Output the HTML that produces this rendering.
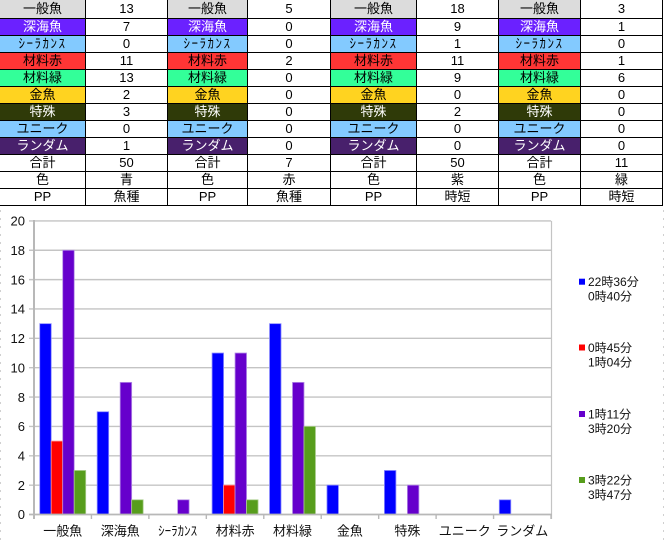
<!DOCTYPE html>
<html>
<head>
<meta charset="utf-8">
<style>
html,body{margin:0;padding:0;background:#fff;}
body{width:664px;height:540px;position:relative;overflow:hidden;font-family:"Liberation Sans","Noto Sans CJK JP",sans-serif;}
.grid{position:absolute;left:-1px;top:0;display:grid;grid-template-columns:85px 81px 79px 82px 85px 81px 81px 81px;grid-template-rows:18px repeat(11,16px);gap:1px;background:#000;padding:0 1px 1px 1px;}
.grid div{background:#fff;color:#000;font-size:13px;text-align:center;line-height:16px;white-space:nowrap;overflow:hidden;}
.grid div.r1{line-height:18px;}
.g{background:#dcdcdc!important;}
.dp{background:#6b21ff!important;color:#fff!important;}
.lb{background:#83caff!important;}
.hk{letter-spacing:1.5px;}
.rd{background:#ff3535!important;}
.gr{background:#33ff99!important;}
.yl{background:#ffd320!important;}
.ol{background:#2f3a08!important;color:#fff!important;}
.pu{background:#48206c!important;color:#fff!important;}
svg{position:absolute;left:0;top:0;}
</style>
</head>
<body>
<div class="grid">
<div class="g r1">一般魚</div><div class="r1">13</div><div class="g r1">一般魚</div><div class="r1">5</div><div class="g r1">一般魚</div><div class="r1">18</div><div class="g r1">一般魚</div><div class="r1">3</div>
<div class="dp">深海魚</div><div>7</div><div class="dp">深海魚</div><div>0</div><div class="dp">深海魚</div><div>9</div><div class="dp">深海魚</div><div>1</div>
<div class="lb hk">ｼｰﾗｶﾝｽ</div><div>0</div><div class="lb hk">ｼｰﾗｶﾝｽ</div><div>0</div><div class="lb hk">ｼｰﾗｶﾝｽ</div><div>1</div><div class="lb hk">ｼｰﾗｶﾝｽ</div><div>0</div>
<div class="rd">材料赤</div><div>11</div><div class="rd">材料赤</div><div>2</div><div class="rd">材料赤</div><div>11</div><div class="rd">材料赤</div><div>1</div>
<div class="gr">材料緑</div><div>13</div><div class="gr">材料緑</div><div>0</div><div class="gr">材料緑</div><div>9</div><div class="gr">材料緑</div><div>6</div>
<div class="yl">金魚</div><div>2</div><div class="yl">金魚</div><div>0</div><div class="yl">金魚</div><div>0</div><div class="yl">金魚</div><div>0</div>
<div class="ol">特殊</div><div>3</div><div class="ol">特殊</div><div>0</div><div class="ol">特殊</div><div>2</div><div class="ol">特殊</div><div>0</div>
<div class="lb">ユニーク</div><div>0</div><div class="lb">ユニーク</div><div>0</div><div class="lb">ユニーク</div><div>0</div><div class="lb">ユニーク</div><div>0</div>
<div class="pu">ランダム</div><div>1</div><div class="pu">ランダム</div><div>0</div><div class="pu">ランダム</div><div>0</div><div class="pu">ランダム</div><div>0</div>
<div>合計</div><div>50</div><div>合計</div><div>7</div><div>合計</div><div>50</div><div>合計</div><div>11</div>
<div>色</div><div>青</div><div>色</div><div>赤</div><div>色</div><div>紫</div><div>色</div><div>緑</div>
<div>PP</div><div>魚種</div><div>PP</div><div>魚種</div><div>PP</div><div>時短</div><div>PP</div><div>時短</div>
</div>

<svg width="664" height="540" viewBox="0 0 664 540" style="top:0;left:0;">
  <line x1="0.5" y1="210" x2="0.5" y2="540" stroke="#d0d0d0" stroke-width="1" stroke-dasharray="2,6"/>
  <line x1="663.5" y1="210" x2="663.5" y2="540" stroke="#d0d0d0" stroke-width="1" stroke-dasharray="2,6"/>

  <g stroke="#c4c4c4" stroke-width="1.4">
    <line x1="29" y1="220.9" x2="551" y2="220.9"/>
    <line x1="29" y1="250.26" x2="551" y2="250.26"/>
    <line x1="29" y1="279.62" x2="551" y2="279.62"/>
    <line x1="29" y1="308.98" x2="551" y2="308.98"/>
    <line x1="29" y1="338.34" x2="551" y2="338.34"/>
    <line x1="29" y1="367.7" x2="551" y2="367.7"/>
    <line x1="29" y1="397.06" x2="551" y2="397.06"/>
    <line x1="29" y1="426.42" x2="551" y2="426.42"/>
    <line x1="29" y1="455.78" x2="551" y2="455.78"/>
    <line x1="29" y1="485.14" x2="551" y2="485.14"/>
  </g>
  <line x1="551.5" y1="220.9" x2="551.5" y2="519" stroke="#c4c4c4" stroke-width="1.2"/>

  <g fill="#0000ff" stroke="#8c8cff" stroke-width="0.8">
    <rect x="39.74" y="323.66" width="11.49" height="190.84"/>
    <rect x="97.19" y="411.74" width="11.49" height="102.76"/>
    <rect x="212.08" y="353.02" width="11.49" height="161.48"/>
    <rect x="269.52" y="323.66" width="11.49" height="190.84"/>
    <rect x="326.97" y="485.14" width="11.49" height="29.36"/>
    <rect x="384.41" y="470.46" width="11.49" height="44.04"/>
    <rect x="499.30" y="499.82" width="11.49" height="14.68"/>
  </g>
  <g fill="#ff0000" stroke="#ff8c8c" stroke-width="0.8">
    <rect x="51.23" y="441.1" width="11.49" height="73.4"/>
    <rect x="223.57" y="485.14" width="11.49" height="29.36"/>
  </g>
  <g fill="#6600cc" stroke="#b38ce6" stroke-width="0.8">
    <rect x="62.72" y="250.26" width="11.49" height="264.24"/>
    <rect x="120.17" y="382.38" width="11.49" height="132.12"/>
    <rect x="177.61" y="499.82" width="11.49" height="14.68"/>
    <rect x="235.06" y="353.02" width="11.49" height="161.48"/>
    <rect x="292.50" y="382.38" width="11.49" height="132.12"/>
    <rect x="407.39" y="485.14" width="11.49" height="29.36"/>
  </g>
  <g fill="#579d1c" stroke="#a9cc8c" stroke-width="0.8">
    <rect x="74.21" y="470.46" width="11.49" height="44.04"/>
    <rect x="131.66" y="499.82" width="11.49" height="14.68"/>
    <rect x="246.55" y="499.82" width="11.49" height="14.68"/>
    <rect x="303.99" y="426.42" width="11.49" height="88.08"/>
  </g>

  <line x1="29" y1="514.5" x2="552" y2="514.5" stroke="#b8b8b8" stroke-width="1.8"/>
  <line x1="34" y1="220" x2="34" y2="519" stroke="#b8b8b8" stroke-width="2"/>
  <g stroke="#b8b8b8" stroke-width="1.4">
    <line x1="91.44" y1="514.5" x2="91.44" y2="519"/>
    <line x1="148.89" y1="514.5" x2="148.89" y2="519"/>
    <line x1="206.33" y1="514.5" x2="206.33" y2="519"/>
    <line x1="263.78" y1="514.5" x2="263.78" y2="519"/>
    <line x1="321.22" y1="514.5" x2="321.22" y2="519"/>
    <line x1="378.67" y1="514.5" x2="378.67" y2="519"/>
    <line x1="436.11" y1="514.5" x2="436.11" y2="519"/>
    <line x1="493.56" y1="514.5" x2="493.56" y2="519"/>
    <line x1="551" y1="514.5" x2="551" y2="519"/>
  </g>

  <g font-family="Liberation Sans, Noto Sans CJK JP, sans-serif" font-size="13" fill="#111" text-anchor="end">
    <text x="25" y="225.6">20</text>
    <text x="25" y="255">18</text>
    <text x="25" y="284.3">16</text>
    <text x="25" y="313.7">14</text>
    <text x="25" y="343">12</text>
    <text x="25" y="372.4">10</text>
    <text x="25" y="401.8">8</text>
    <text x="25" y="431.1">6</text>
    <text x="25" y="460.5">4</text>
    <text x="25" y="489.8">2</text>
    <text x="25" y="519.2">0</text>
  </g>

  <g font-family="Liberation Sans, Noto Sans CJK JP, sans-serif" font-size="13" fill="#111" text-anchor="middle">
    <text x="62.7" y="535.5">一般魚</text>
    <text x="120.2" y="535.5">深海魚</text>
    <text x="177.6" y="535.5">ｼｰﾗｶﾝｽ</text>
    <text x="235.1" y="535.5">材料赤</text>
    <text x="292.5" y="535.5">材料緑</text>
    <text x="349.9" y="535.5">金魚</text>
    <text x="407.4" y="535.5">特殊</text>
    <text x="464.8" y="535.5">ユニーク</text>
    <text x="522.3" y="535.5">ランダム</text>
  </g>

  <rect x="579" y="278.7" width="6" height="6" fill="#0000ff"/>
  <rect x="579" y="344.5" width="6" height="6" fill="#ff0000"/>
  <rect x="579" y="411" width="6" height="6" fill="#6600cc"/>
  <rect x="579" y="477" width="6" height="6" fill="#579d1c"/>
  <g font-family="Liberation Sans, Noto Sans CJK JP, sans-serif" font-size="12" fill="#111">
    <text x="588" y="286">22時36分</text>
    <text x="588" y="300.5">0時40分</text>
    <text x="588" y="351.8">0時45分</text>
    <text x="588" y="366.3">1時04分</text>
    <text x="588" y="418.3">1時11分</text>
    <text x="588" y="432.8">3時20分</text>
    <text x="588" y="484.3">3時22分</text>
    <text x="588" y="498.8">3時47分</text>
  </g>
</svg>
</body>
</html>
